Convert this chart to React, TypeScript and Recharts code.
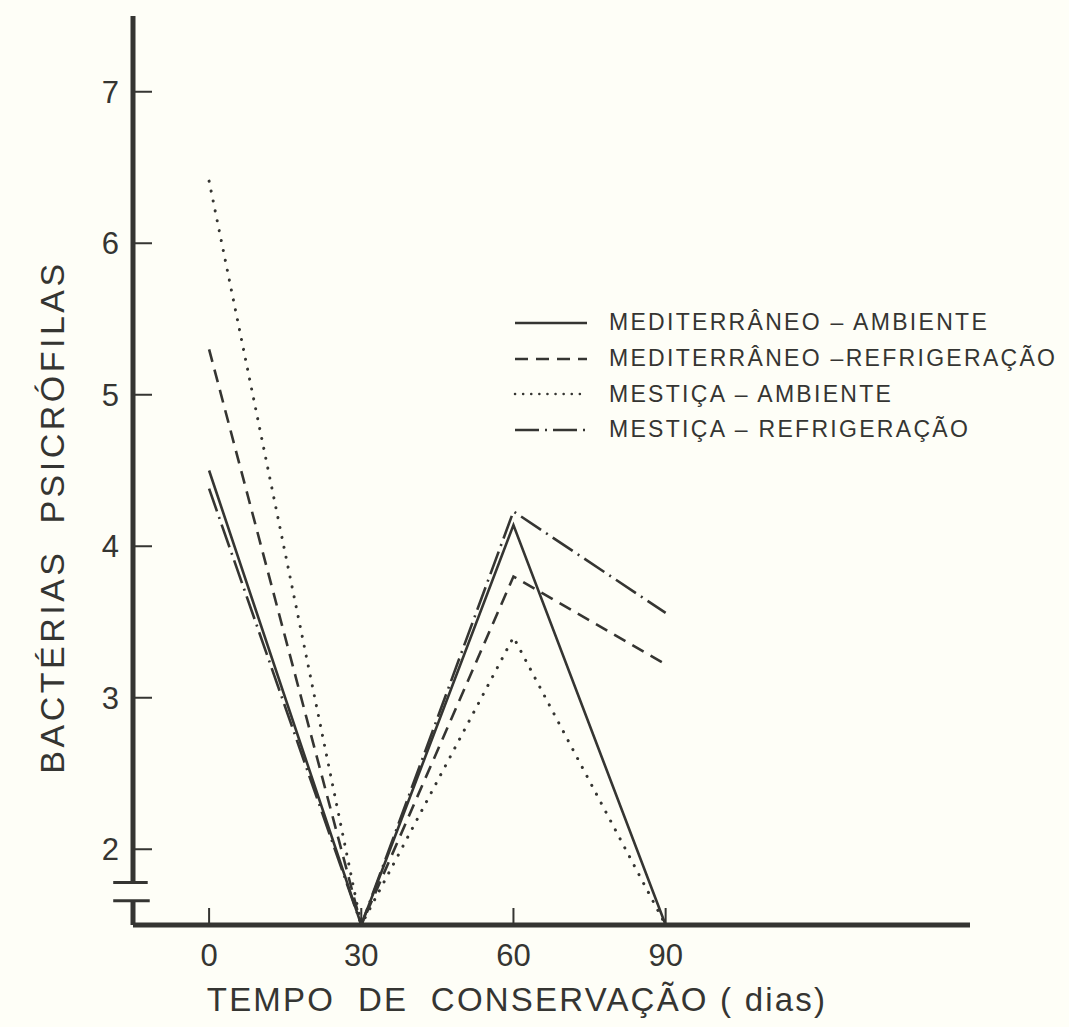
import React from 'react';
import { LineChart, Line, XAxis, YAxis, ReferenceLine } from 'recharts';

const days = [0, 30, 60, 90];
const medAmb = [4.5, 1.5, 4.14, 1.5];
const medRef = [5.3, 1.5, 3.8, 3.22];
const mesAmb = [6.41, 1.5, 3.4, 1.5];
const mesRef = [4.38, 1.5, 4.23, 3.56];
const seriesNames = [
  'MEDITERRÂNEO – AMBIENTE',
  'MEDITERRÂNEO –REFRIGERAÇÃO',
  'MESTIÇA – AMBIENTE',
  'MESTIÇA – REFRIGERAÇÃO',
];
const xTicks = [0, 30, 60, 90];
const yTicks = [2, 3, 4, 5, 6, 7];

const data = days.map((d, i) => ({
  day: d,
  medAmb: medAmb[i],
  medRef: medRef[i],
  mesAmb: mesAmb[i],
  mesRef: mesRef[i],
}));

const INK = '#353532';
const BG = '#fefef7';
const FONT = '"Liberation Sans", Arial, sans-serif';

const lineStyles = [
  { key: 'medAmb', dash: undefined as string | undefined, cap: 'butt' },
  { key: 'medRef', dash: '13 8', cap: 'butt' },
  { key: 'mesAmb', dash: '0.1 10', cap: 'round' },
  { key: 'mesRef', dash: '24 6 2 6', cap: 'butt' },
];

const XTick = (props: any) => {
  const { x, y, payload } = props;
  return (
    <g>
      <line x1={x} y1={y} x2={x} y2={y - 17} stroke={INK} strokeWidth={2} />
      <text x={x} y={y + 41} textAnchor="middle" fontSize={31} fill={INK} fontFamily={FONT}>
        {payload.value}
      </text>
    </g>
  );
};

const YTick = (props: any) => {
  const { x, y, payload } = props;
  return (
    <g>
      <line x1={x} y1={y} x2={x + 19} y2={y} stroke={INK} strokeWidth={2} />
      <text x={x - 14} y={y + 11} textAnchor="end" fontSize={31} fill={INK} fontFamily={FONT}>
        {payload.value}
      </text>
    </g>
  );
};

export default function App() {
  return (
    <div style={{ position: 'absolute', left: 0, top: 0, width: 1069, height: 1027, background: BG, overflow: 'hidden' }}>
      <LineChart
        width={1069}
        height={1027}
        data={data}
        margin={{ top: 16, right: 99, left: 0, bottom: 0 }}
      >
        <XAxis
          dataKey="day"
          type="number"
          domain={[-15, 150]}
          ticks={xTicks}
          allowDataOverflow
          axisLine={false}
          tickLine={false}
          tickSize={0}
          tickMargin={0}
          tick={<XTick />}
          height={102}
          interval={0}
        />
        <YAxis
          type="number"
          domain={[1.5, 7.5]}
          ticks={yTicks}
          allowDataOverflow
          axisLine={false}
          tickLine={false}
          tickSize={0}
          tickMargin={0}
          tick={<YTick />}
          width={133}
          interval={0}
        />
        <ReferenceLine segment={[{ x: -15, y: 7.5 }, { x: -15, y: 1.78 }]} stroke={INK} strokeWidth={5} ifOverflow="visible" />
        <ReferenceLine segment={[{ x: -15, y: 1.66 }, { x: -15, y: 1.5 }]} stroke={INK} strokeWidth={5} ifOverflow="visible" />
        <ReferenceLine segment={[{ x: -15, y: 1.5 }, { x: 150, y: 1.5 }]} stroke={INK} strokeWidth={5} ifOverflow="visible" />
        <ReferenceLine segment={[{ x: -18.9, y: 1.78 }, { x: -12.1, y: 1.78 }]} stroke={INK} strokeWidth={3} ifOverflow="visible" />
        <ReferenceLine segment={[{ x: -18.9, y: 1.66 }, { x: -11.7, y: 1.66 }]} stroke={INK} strokeWidth={3} ifOverflow="visible" />
        {lineStyles.map((s, i) => (
          <Line
            key={s.key}
            dataKey={s.key}
            name={seriesNames[i]}
            type="linear"
            stroke={INK}
            strokeWidth={s.cap === 'round' ? 3 : 2.6}
            strokeDasharray={s.dash}
            strokeLinecap={s.cap as any}
            dot={false}
            activeDot={false}
            isAnimationActive={false}
          />
        ))}
      </LineChart>
      <div
        style={{
          position: 'absolute',
          left: 52,
          top: 517,
          transform: 'translate(-50%, -50%) rotate(-90deg)',
          whiteSpace: 'nowrap',
          fontFamily: FONT,
          fontSize: 34,
          letterSpacing: 3.5,
          color: INK,
        }}
      >
        BACTÉRIAS&nbsp;&nbsp;PSICRÓFILAS
      </div>
      <div
        style={{
          position: 'absolute',
          left: 517,
          top: 1000,
          transform: 'translate(-50%, -50%)',
          whiteSpace: 'nowrap',
          fontFamily: FONT,
          fontSize: 33,
          letterSpacing: 2.2,
          color: INK,
        }}
      >
        TEMPO&nbsp;&nbsp;DE&nbsp;&nbsp;CONSERVAÇÃO ( dias)
      </div>
      <div style={{ position: 'absolute', left: 513, top: 305 }}>
        {seriesNames.map((n, i) => (
          <div key={n} style={{ display: 'flex', alignItems: 'center', height: 35.7 }}>
            <svg width={76} height={10} style={{ marginRight: 20 }}>
              <line
                x1={2}
                y1={5}
                x2={74}
                y2={5}
                stroke={INK}
                strokeWidth={2.5}
                strokeDasharray={lineStyles[i].dash === '0.1 10' ? '0.1 8' : lineStyles[i].dash}
                strokeLinecap={lineStyles[i].cap as any}
              />
            </svg>
            <span style={{ fontFamily: FONT, fontSize: 23, letterSpacing: 2.3, color: INK, whiteSpace: 'nowrap' }}>{n}</span>
          </div>
        ))}
      </div>
    </div>
  );
}
